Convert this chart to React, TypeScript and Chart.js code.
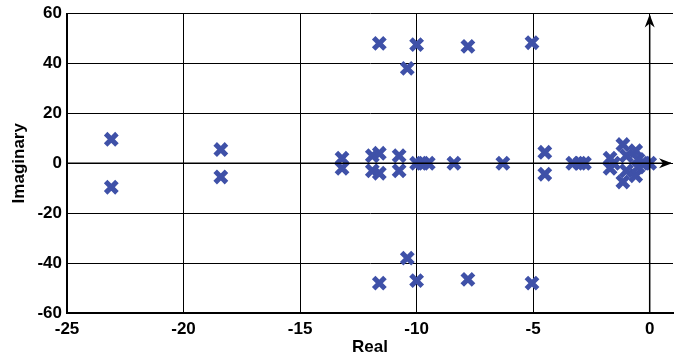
import React, { useEffect, useRef } from "react";
import { Chart, registerables } from "chart.js";

Chart.register(...registerables);

const realParts = [
  -23.1, -23.1, -18.4, -18.4, -13.2, -13.2, -11.9, -11.9, -11.6, -11.6,
  -10.75, -10.75, -10.0, -9.75, -9.5, -8.4, -6.3, -4.5, -4.5, -3.3, -3.0, -2.8,
  -1.7, -1.7, -1.55, -1.15, -1.15, -1.0, -1.0, -0.6, -0.6, -0.5, -0.5, -0.25, 0.0,
  -11.6, -11.6, -10.0, -10.0, -10.4, -10.4, -7.8, -7.8, -5.05, -5.05,
];
const imagParts = [
  9.6, -9.6, 5.5, -5.5, 2, -2, 3, -3, 4, -4,
  3, -3, 0, 0, 0, 0, 0, 4.4, -4.4, 0, 0, 0,
  2, -2, 0, 7.5, -7.5, 3, -3, 5, -5, 1.5, -1.5, 0, 0,
  48, -48, 47.5, -47, 38, -38, 46.8, -46.5, 48.3, -48,
];
const xTicks = [-25, -20, -15, -10, -5, 0];
const yTicks = [-60, -40, -20, 0, 20, 40, 60];
const xTitle = "Real";
const yTitle = "Imaginary";

const arrowPlugin = {
  id: "axisArrows",
  afterDatasetsDraw(chart: any) {
    const { ctx, scales, chartArea } = chart;
    const x0 = scales.x.getPixelForValue(0);
    const y0 = scales.y.getPixelForValue(0);
    ctx.save();
    ctx.strokeStyle = "#000";
    ctx.fillStyle = "#000";
    ctx.lineWidth = 1.5;
    ctx.beginPath();
    ctx.moveTo(chartArea.left, y0);
    ctx.lineTo(chartArea.right - 2, y0);
    ctx.moveTo(x0, chartArea.bottom);
    ctx.lineTo(x0, chartArea.top + 2);
    ctx.stroke();
    const rx = chartArea.right - 1;
    ctx.beginPath();
    ctx.moveTo(rx, y0);
    ctx.lineTo(rx - 13, y0 - 5);
    ctx.lineTo(rx - 9, y0);
    ctx.lineTo(rx - 13, y0 + 5);
    ctx.closePath();
    ctx.fill();
    const ty = chartArea.top + 1;
    ctx.beginPath();
    ctx.moveTo(x0, ty);
    ctx.lineTo(x0 - 5, ty + 13);
    ctx.lineTo(x0, ty + 9);
    ctx.lineTo(x0 + 5, ty + 13);
    ctx.closePath();
    ctx.fill();
    ctx.restore();
  },
};

const mkFont = () => ({ family: "Arial, 'Liberation Sans', sans-serif", size: 17, weight: 700, lineHeight: 1 });

export default function App() {
  const ref = useRef<HTMLCanvasElement>(null);
  useEffect(() => {
    if (!ref.current) return;
    const pts = realParts.map((r, i) => ({ x: r, y: imagParts[i] }));
    const chart = new Chart(ref.current, {
      type: "scatter",
      data: {
        datasets: [
          {
            data: pts,
            pointStyle: "crossRot",
            pointRadius: 8,
            pointHoverRadius: 8,
            borderWidth: 5,
            pointBorderWidth: 5,
            borderColor: "#3F51A8",
            backgroundColor: "#3F51A8",
          },
        ],
      },
      options: {
        animation: false,
        responsive: false,
        maintainAspectRatio: false,
        layout: { padding: { top: 0, right: 13, left: 0, bottom: 0 } },
        plugins: { legend: { display: false }, tooltip: { enabled: false } },
        scales: {
          x: {
            type: "linear",
            min: -25,
            max: 1,
            afterBuildTicks: (s: any) => {
              s.ticks = xTicks.map((v) => ({ value: v }));
            },
            afterFit: (s: any) => {
              s.height = 45;
            },
            ticks: { color: "#000", font: mkFont(), padding: 8, maxRotation: 0 },
            grid: { color: "#000", lineWidth: 1, drawTicks: false },
            border: { color: "#000", width: 2 },
            title: { display: true, text: xTitle, color: "#000", font: mkFont(), padding: { top: 0, bottom: 2 } },
          },
          y: {
            type: "linear",
            min: -60,
            max: 60,
            afterBuildTicks: (s: any) => {
              s.ticks = yTicks.map((v) => ({ value: v }));
            },
            afterFit: (s: any) => {
              s.width = 67;
            },
            ticks: { color: "#000", font: mkFont(), padding: 5 },
            grid: { color: "#000", lineWidth: 1, drawTicks: false },
            border: { color: "#000", width: 2 },
            title: { display: true, text: yTitle, color: "#000", font: mkFont(), padding: { top: 11, bottom: 0 } },
          },
        },
      },
      plugins: [arrowPlugin],
    });
    return () => chart.destroy();
  }, []);
  return (
    <div style={{ position: "absolute", left: 0, top: 0, width: 686, height: 358, background: "#fff" }}>
      <canvas ref={ref} width={686} height={358} style={{ width: 686, height: 358 }} />
    </div>
  );
}
